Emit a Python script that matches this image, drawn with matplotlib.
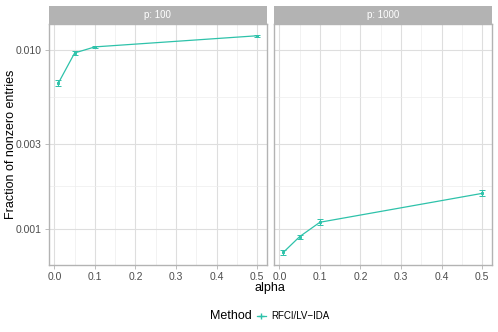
import numpy as np
import matplotlib.pyplot as plt
from matplotlib.ticker import FixedLocator, NullFormatter

# data
alpha = [0.01, 0.05, 0.1, 0.5]
panels = ["p: 100", "p: 1000"]
frac_p100 = [0.00654, 0.00962, 0.0104, 0.0120]
err_p100 = [0.00025, 0.00020, 0.00018, 0.00015]
frac_p1000 = [0.000741, 0.000906, 0.00109, 0.00158]
err_p1000 = [0.000025, 0.000025, 0.000040, 0.000060]
method = "RFCI/LV\u2212IDA"

y_breaks = [0.001, 0.003, 0.010]
y_labels = ["0.001", "0.003", "0.010"]
x_breaks = [0.0, 0.1, 0.2, 0.3, 0.4, 0.5]

color = "#2EC2AA"
grid_col = "#DEDEDE"
border_col = "#B3B3B3"

plt.rcParams['font.family'] = ['Liberation Sans', 'DejaVu Sans']

fig = plt.figure(figsize=(4.98, 3.32), dpi=100)
W, H = 498, 332


def add_axes_px(x0, y0, x1, y1):
    return fig.add_axes([x0 / W, 1 - y1 / H, (x1 - x0) / W, (y1 - y0) / H])


series = [(frac_p100, err_p100), (frac_p1000, err_p1000)]
lefts = [48.5, 273.5]
handle = None
for i, (vals, errs) in enumerate(series):
    x0 = lefts[i]
    ax = add_axes_px(x0, 24, x0 + 218.5, 265)
    ax.set_yscale('log')
    ax.set_ylim(0.000629, 0.01396)
    ax.set_xlim(-0.0145, 0.5245)

    ax.yaxis.set_major_locator(FixedLocator(y_breaks))
    ax.yaxis.set_minor_locator(FixedLocator([np.sqrt(0.001 * 0.003), np.sqrt(0.003 * 0.01)]))
    ax.yaxis.set_minor_formatter(NullFormatter())
    ax.set_xticks(x_breaks)
    ax.set_xticks([0.05, 0.15, 0.25, 0.35, 0.45], minor=True)
    ax.set_xticklabels(["0.0", "0.1", "0.2", "0.3", "0.4", "0.5"])
    if i == 0:
        ax.set_yticklabels(y_labels)
    else:
        ax.set_yticklabels([])

    ax.grid(True, which='major', color=grid_col, linewidth=0.8)
    ax.grid(True, which='minor', color="#EDEDED", linewidth=0.5)
    ax.set_axisbelow(True)
    ax.tick_params(which='major', length=3, width=0.6, color=border_col,
                   labelsize=7.5, labelcolor="#4D4D4D", pad=2)
    ax.tick_params(which='minor', length=0)
    if i == 1:
        ax.tick_params(axis='y', which='major', length=0)
    for s in ax.spines.values():
        s.set_color(border_col)
        s.set_linewidth(1.0)

    ax.errorbar(alpha, vals, yerr=errs, color=color, linewidth=0.9,
                elinewidth=0.8, capsize=2, capthick=0.8,
                marker='s', markersize=2, markerfacecolor="none",
                markeredgecolor=color, markeredgewidth=0.7)
    h, = ax.plot([], [], color=color, linewidth=0.9, marker='+', markersize=4)
    handle = h

    # strip
    sax = add_axes_px(x0, 6, x0 + 218.5, 23.5)
    sax.set_facecolor(border_col)
    sax.set_xticks([])
    sax.set_yticks([])
    for s in sax.spines.values():
        s.set_visible(False)
    sax.text(0.5, 0.5, panels[i], color="white", fontsize=7,
             ha='center', va='center', transform=sax.transAxes)

fig.text(11 / W, 1 - 144 / H, "Fraction of nonzero entries", rotation=90,
         ha='center', va='center', fontsize=9, color="black")
fig.text(270 / W, 1 - 288 / H, "alpha", ha='center', va='center',
         fontsize=9, color="black")

fig.text(231 / W, 1 - 316 / H, "Method", ha='center', va='center',
         fontsize=9, color="black")
fig.legend([handle], [method], loc='center left',
           bbox_to_anchor=(257 / W, 1 - 316 / H), frameon=False,
           fontsize=7, handlelength=0.9, handletextpad=0.6,
           borderpad=0, borderaxespad=0)

fig.savefig("out.png", dpi=100)
